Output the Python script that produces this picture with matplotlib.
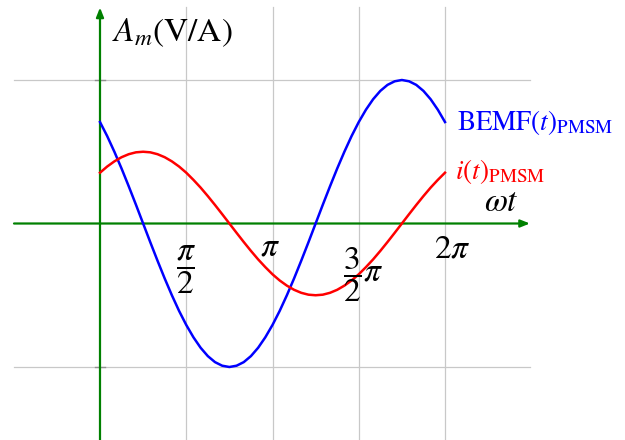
import numpy as np
import matplotlib
matplotlib.use("Agg")
import matplotlib.pyplot as plt

# wt samples, every pi/24 from 0 to 2pi
wt = np.arange(49) * np.pi / 24

# values (normalised to the grid lines at +-1)
bemf = [0.707, 0.609, 0.500, 0.383, 0.259, 0.131, 0.0, -0.131, -0.259, -0.383,
        -0.500, -0.609, -0.707, -0.793, -0.866, -0.924, -0.966, -0.991, -1.0,
        -0.991, -0.966, -0.924, -0.866, -0.793, -0.707, -0.609, -0.500, -0.383,
        -0.259, -0.131, 0.0, 0.131, 0.259, 0.383, 0.500, 0.609, 0.707, 0.793,
        0.866, 0.924, 0.966, 0.991, 1.0, 0.991, 0.966, 0.924, 0.866, 0.793, 0.707]
current = [0.354, 0.397, 0.433, 0.462, 0.483, 0.496, 0.500, 0.496, 0.483, 0.462,
           0.433, 0.397, 0.354, 0.304, 0.250, 0.191, 0.129, 0.065, 0.0, -0.065,
           -0.129, -0.191, -0.250, -0.304, -0.354, -0.397, -0.433, -0.462, -0.483,
           -0.496, -0.500, -0.496, -0.483, -0.462, -0.433, -0.397, -0.354, -0.304,
           -0.250, -0.191, -0.129, -0.065, 0.0, 0.065, 0.129, 0.191, 0.250, 0.304, 0.354]

xgrid = [np.pi / 2, np.pi, 3 * np.pi / 2, 2 * np.pi]
ygrid = [-1, 1]
xtick_labels = [r"$\dfrac{\pi}{2}$", r"$\pi$", r"$\dfrac{3}{2}\pi$", r"$2\pi$"]

plt.rcParams["mathtext.fontset"] = "stix"
plt.rcParams["font.family"] = "STIXGeneral"

fig = plt.figure(figsize=(6.25, 4.4), dpi=100)
ax = fig.add_axes([0, 0, 1, 1])
ax.set_xlim(-1.8212, 9.5613)
ax.set_ylim(-1.5087, 1.5575)
ax.axis("off")

# light grid
for g in xgrid:
    ax.plot([g, g], [-1.52, 1.51], color="#c8c8c8", lw=0.9, zorder=1)
for g in ygrid:
    ax.plot([-1.566, 7.84], [g, g], color="#c8c8c8", lw=0.9, zorder=1)
    ax.plot([-0.09, 0.09], [g, g], color="#909090", lw=1.0, zorder=1)

# green axes with arrows
arrow = dict(arrowstyle="-|>,head_length=0.55,head_width=0.22", color="green",
             lw=1.6, shrinkA=0, shrinkB=0)
ax.annotate("", xy=(7.83, 0), xytext=(-1.566, 0), arrowprops=arrow, zorder=2)
ax.annotate("", xy=(0, 1.505), xytext=(0, -1.52), arrowprops=arrow, zorder=2)

ax.plot(wt, bemf, color="blue", lw=1.8, zorder=3)
ax.plot(wt, current, color="red", lw=1.8, zorder=3)

def px(x, y):
    return x / 625, 1 - y / 440

# tick labels
tick_pos = [(186, 270), (270, 248), (363, 275), (452, 250)]
for (x, y), lab in zip(tick_pos, xtick_labels):
    fig.text(*px(x, y), lab, fontsize=24, ha="center", va="center")

fig.text(*px(112, 33), r"$A_m(\mathrm{V/A})$", fontsize=24, ha="left", va="center")
fig.text(*px(484, 203), r"$\omega t$", fontsize=24, ha="left", va="center")
fig.text(*px(457, 122), r"$\mathrm{BEMF}(t)_{\mathrm{PMSM}}$", fontsize=19.5,
         ha="left", va="center", color="blue")
fig.text(*px(455, 172), r"$i(t)_{\mathrm{PMSM}}$", fontsize=19.5,
         ha="left", va="center", color="red")

fig.savefig("out.png", dpi=100)
